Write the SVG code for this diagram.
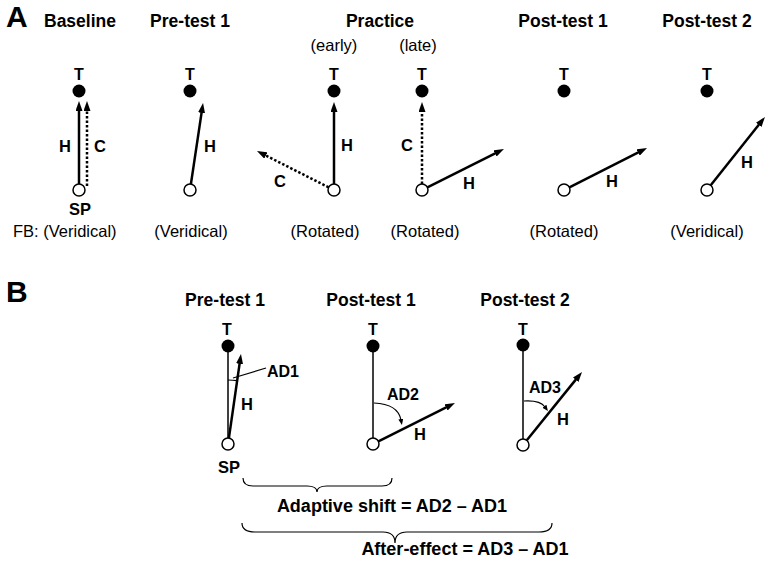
<svg xmlns="http://www.w3.org/2000/svg" width="769" height="567" viewBox="0 0 769 567">
<style>
text{font-family:"Liberation Sans",Arial,sans-serif;fill:#000}
.pl{font-size:30px;font-weight:bold}
.ti{font-size:17.5px;font-weight:bold;text-anchor:middle}
.lb{font-size:16.5px;font-weight:bold;text-anchor:middle}
.t{font-size:16px;font-weight:bold;text-anchor:middle}
.rg{font-size:16.5px;text-anchor:middle}
.ad{font-size:16px;font-weight:bold}
.fm{font-size:18px;font-weight:bold;text-anchor:middle}
.ar{stroke:#000;stroke-width:2.5;fill:none;marker-end:url(#ah)}
.dt{stroke:#000;stroke-width:2.5;fill:none;stroke-dasharray:2.5 2;marker-end:url(#ah)}
.th{stroke:#000;stroke-width:1.5;fill:none}
.tg{fill:#000}
.sp{fill:#fff;stroke:#000;stroke-width:1.5}
.cv{stroke:#000;stroke-width:1.2;fill:none}
</style>
<defs>
<marker id="ah" markerUnits="userSpaceOnUse" markerWidth="10" markerHeight="7" refX="3" refY="3.5" orient="auto"><path d="M0,0 L10,3.5 L0,7 z" fill="#000"/></marker>
<marker id="sm" markerUnits="userSpaceOnUse" markerWidth="7" markerHeight="6" refX="1" refY="2.5" orient="auto"><path d="M0,0 L6,2.5 L0,5 z" fill="#000"/></marker>
</defs>

<text class="pl" x="6" y="27">A</text>
<text class="pl" x="6" y="302">B</text>

<g id="connectors">
<line class="ar" x1="79" y1="184" x2="79" y2="108"/>
<line class="dt" x1="87" y1="186" x2="87" y2="108"/>
<line class="ar" x1="190.9" y1="184.1" x2="202" y2="109.9"/>
<line class="ar" x1="334" y1="184" x2="334" y2="109"/>
<line class="dt" x1="328.6" y1="187.3" x2="263.2" y2="154.2"/>
<line class="dt" x1="422" y1="184" x2="422" y2="109"/>
<line class="ar" x1="427.4" y1="187.3" x2="497.7" y2="152.1"/>
<line class="ar" x1="569.4" y1="187.3" x2="640.8" y2="151.2"/>
<line class="ar" x1="710.7" y1="185.3" x2="760.6" y2="122.5"/>
<line class="th" x1="228" y1="346" x2="228" y2="438"/>
<line class="ar" x1="228.9" y1="438.1" x2="240" y2="360.9"/>
<line class="th" x1="373" y1="346" x2="373" y2="438"/>
<line class="ar" x1="378.4" y1="441.3" x2="448.7" y2="406.1"/>
<line class="th" x1="523" y1="346" x2="523" y2="439"/>
<line class="ar" x1="526.8" y1="440.3" x2="577.6" y2="377.4"/>
<path class="cv" d="M228,380 A64,64 0 0 1 237.1,380.7"/>
<line class="cv" x1="233" y1="378" x2="266" y2="368"/>
<path class="cv" d="M374,403 Q398,404 401,420" marker-end="url(#sm)"/>
<path class="cv" d="M524,401 Q540,400 545,407" marker-end="url(#sm)"/>
</g>

<g id="baseline">
<text class="ti" x="80" y="27">Baseline</text>
<text class="t" x="79" y="80">T</text>
<circle class="tg" cx="79" cy="91" r="6.5"/>
<circle class="sp" cx="79" cy="190" r="6"/>
<text class="lb" x="65" y="152">H</text>
<text class="lb" x="100" y="152">C</text>
<text class="lb" x="80" y="215">SP</text>
<text class="rg" x="13" y="237" style="text-anchor:start">FB: (Veridical)</text>
</g>

<g id="pretest1">
<text class="ti" x="190" y="27">Pre-test 1</text>
<text class="t" x="190" y="80">T</text>
<circle class="tg" cx="190" cy="91" r="6.5"/>
<circle class="sp" cx="190" cy="190" r="6"/>
<text class="lb" x="210" y="152">H</text>
<text class="rg" x="191" y="237">(Veridical)</text>
</g>

<g id="practice">
<text class="ti" x="380" y="27">Practice</text>
<text class="rg" x="334" y="51">(early)</text>
<text class="rg" x="418" y="51">(late)</text>
</g>

<g id="practice-early">
<text class="t" x="334" y="80">T</text>
<circle class="tg" cx="334" cy="91" r="6.5"/>
<circle class="sp" cx="334" cy="190" r="6"/>
<text class="lb" x="347" y="151">H</text>
<text class="lb" x="280" y="187">C</text>
<text class="rg" x="325" y="237">(Rotated)</text>
</g>

<g id="practice-late">
<text class="t" x="422" y="80">T</text>
<circle class="tg" cx="422" cy="91" r="6.5"/>
<circle class="sp" cx="422" cy="190" r="6"/>
<text class="lb" x="407" y="151">C</text>
<text class="lb" x="469" y="189">H</text>
<text class="rg" x="425" y="237">(Rotated)</text>
</g>

<g id="posttest1">
<text class="ti" x="563" y="27">Post-test 1</text>
<text class="t" x="564" y="80">T</text>
<circle class="tg" cx="564" cy="91" r="6.5"/>
<circle class="sp" cx="564" cy="190" r="6"/>
<text class="lb" x="612" y="187">H</text>
<text class="rg" x="564" y="237">(Rotated)</text>
</g>

<g id="posttest2">
<text class="ti" x="707" y="27">Post-test 2</text>
<text class="t" x="707" y="80">T</text>
<circle class="tg" cx="707" cy="91" r="6.5"/>
<circle class="sp" cx="707" cy="190" r="6"/>
<text class="lb" x="747" y="168">H</text>
<text class="rg" x="707" y="237">(Veridical)</text>
</g>

<g id="b-pretest1">
<text class="ti" x="225" y="306">Pre-test 1</text>
<text class="t" x="227" y="335">T</text>
<circle class="tg" cx="228" cy="346" r="6.5"/>
<circle class="sp" cx="228" cy="444" r="6"/>
<text class="ad" x="267" y="377">AD1</text>
<text class="lb" x="247" y="410">H</text>
<text class="lb" x="229" y="473">SP</text>
</g>

<g id="b-posttest1">
<text class="ti" x="371" y="306">Post-test 1</text>
<text class="t" x="373" y="335">T</text>
<circle class="tg" cx="373" cy="346" r="6.5"/>
<circle class="sp" cx="373" cy="444" r="6"/>
<text class="ad" x="403" y="400" style="text-anchor:middle">AD2</text>
<text class="lb" x="420" y="440">H</text>
</g>

<g id="b-posttest2">
<text class="ti" x="525" y="306">Post-test 2</text>
<text class="t" x="523" y="335">T</text>
<circle class="tg" cx="523" cy="345" r="6.5"/>
<circle class="sp" cx="523" cy="445" r="6"/>
<text class="ad" x="545" y="393" style="text-anchor:middle">AD3</text>
<text class="lb" x="563" y="425">H</text>
</g>

<g id="adaptive-shift">
<path class="cv" d="M243,478 Q243,486 253,486 L307,486 Q317,486 317,492 Q317,486 327,486 L382,486 Q392,486 392,478"/>
<text class="fm" x="392" y="512">Adaptive shift = AD2 – AD1</text>
</g>

<g id="after-effect">
<path class="cv" d="M242,523 Q242,532 255,532 L383,532 Q395,532 395,543 Q395,532 407,532 L539,532 Q552,532 552,523"/>
<text class="fm" x="465" y="555">After-effect = AD3 – AD1</text>
</g>
</svg>
